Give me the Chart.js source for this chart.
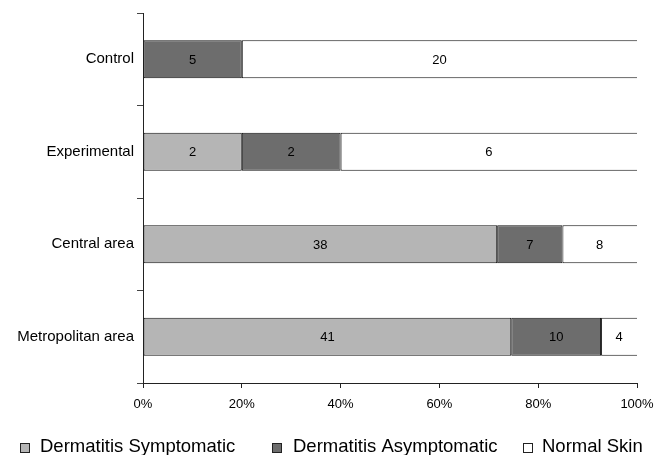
<!DOCTYPE html>
<html>
<head>
<meta charset="utf-8">
<script src="https://cdn.jsdelivr.net/npm/chart.js@4.4.1/dist/chart.umd.min.js"></script>
<style>
html,body{margin:0;padding:0;background:#fff;}
#wrap{width:665px;height:455px;position:relative;}
</style>
</head>
<body>
<div id="wrap"><canvas id="c" width="665" height="455"></canvas></div>
<script>
const categories = ["Control", "Experimental", "Central area", "Metropolitan area"];
const seriesNames = ["Dermatitis Symptomatic", "Dermatitis Asymptomatic", "Normal Skin"];
const symptomatic = [0, 2, 38, 41];
const asymptomatic = [5, 2, 7, 10];
const normalSkin = [20, 6, 8, 4];
const xTicks = ["0%", "20%", "40%", "60%", "80%", "100%"];

const counts = [symptomatic, asymptomatic, normalSkin];
const totals = categories.map((_, i) => counts.reduce((s, a) => s + a[i], 0));
const pct = arr => arr.map((v, i) => v / totals[i] * 100);

const fills = ["#b5b5b5", "#6d6d6d", "#ffffff"];
const FONT = "'Liberation Sans', Arial, sans-serif";

const datasets = counts.map((arr, k) => ({
  label: seriesNames[k],
  data: pct(arr),
  raw: arr,
  backgroundColor: fills[k],
  borderColor: "#111",
  borderWidth: k === 2 ? {top: 1, bottom: 1, left: 1, right: 0} : 1,
  borderSkipped: false,
  barPercentage: 0.41,
  categoryPercentage: 1.0
}));

const valueLabels = {
  id: "valueLabels",
  afterDatasetsDraw(chart) {
    const ctx = chart.ctx;
    ctx.save();
    ctx.font = "13px " + FONT;
    ctx.fillStyle = "#000";
    ctx.textAlign = "center";
    ctx.textBaseline = "middle";
    chart.data.datasets.forEach((ds, di) => {
      const meta = chart.getDatasetMeta(di);
      meta.data.forEach((bar, i) => {
        const v = ds.raw[i];
        if (!v) return;
        const cx = (bar.x + bar.base) / 2;
        ctx.fillText(String(v), cx, bar.y + 1);
      });
    });
    ctx.restore();
  }
};

// custom single-row legend drawn below the axis
const bottomLegend = {
  id: "bottomLegend",
  afterDraw(chart) {
    const ctx = chart.ctx;
    const boxX = [20, 272, 523];
    const textX = [40, 293, 542];
    ctx.save();
    ctx.font = "18.5px " + FONT;
    ctx.textBaseline = "alphabetic";
    ctx.textAlign = "left";
    chart.data.datasets.forEach((ds, i) => {
      ctx.fillStyle = ds.backgroundColor;
      ctx.fillRect(boxX[i] + 0.5, 443.5, 9, 9);
      ctx.strokeStyle = "#222";
      ctx.lineWidth = 1;
      ctx.strokeRect(boxX[i] + 0.5, 443.5, 9, 9);
      ctx.fillStyle = "#000";
      ctx.fillText(ds.label, textX[i], 452);
    });
    ctx.restore();
  }
};

new Chart(document.getElementById("c"), {
  type: "bar",
  data: { labels: categories, datasets },
  options: {
    indexAxis: "y",
    responsive: false,
    animation: false,
    devicePixelRatio: 1,
    layout: { padding: { top: 13, right: 28, left: 0, bottom: 0 } },
    scales: {
      x: {
        stacked: true,
        min: 0, max: 100,
        afterFit: s => { s.height = 72; },
        ticks: {
          stepSize: 20,
          color: "#000",
          font: { family: FONT, size: 13 },
          padding: 9,
          callback: (v, i) => xTicks[i]
        },
        grid: { drawOnChartArea: false, drawTicks: true, tickLength: 5, color: "#222" },
        border: { color: "#222", width: 1 }
      },
      y: {
        stacked: true,
        offset: true,
        afterFit: s => { s.width = 143; },
        ticks: { color: "#000", font: { family: FONT, size: 15 }, padding: 3 },
        grid: { offset: true, drawOnChartArea: false, drawTicks: true, tickLength: 6, color: "#444" },
        border: { color: "#222", width: 1 }
      }
    },
    plugins: {
      legend: { display: false },
      tooltip: { enabled: false }
    }
  },
  plugins: [valueLabels, bottomLegend]
});
</script>
</body>
</html>
